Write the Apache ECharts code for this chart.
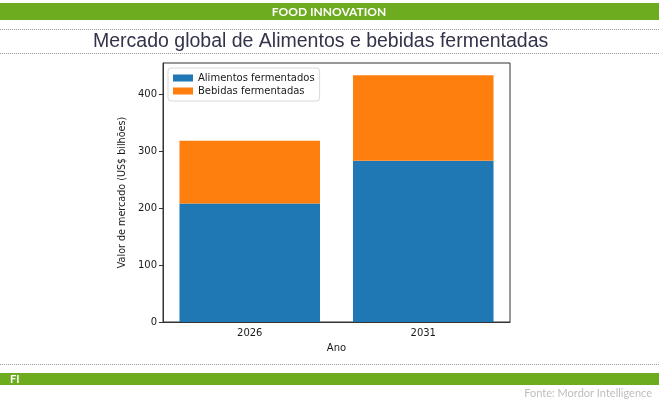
<!DOCTYPE html>
<html>
<head>
<meta charset="utf-8">
<script src="https://cdn.jsdelivr.net/npm/echarts@6/dist/echarts.min.js"></script>
<style>
html,body{margin:0;padding:0;background:#fff;}
#chart{width:659px;height:400px;}
</style>
</head>
<body>
<div id="chart"></div>
<script>
const categories = ['2026', '2031'];
const alimentos = [208, 283];
const bebidas = [110, 150];
const yTicks = [0, 100, 200, 300, 400];
const seriesNames = ['Alimentos fermentados', 'Bebidas fermentadas'];

const chart = echarts.init(document.getElementById('chart'));
const axisFont = 'DejaVu Sans';
const green = '#6dab1f';

chart.setOption({
  animation: false,
  backgroundColor: '#ffffff',
  title: {
    text: 'Mercado global de Alimentos e bebidas fermentadas',
    left: 93,
    top: 32,
    padding: 0,
    textStyle: { fontFamily: 'Liberation Sans', fontSize: 19.5, fontWeight: 'normal', color: '#33334a' }
  },
  legend: {
    orient: 'vertical',
    left: 168,
    top: 68,
    itemWidth: 20,
    itemHeight: 7,
    itemGap: 3,
    padding: [5, 5, 5, 5],
    backgroundColor: '#ffffff',
    borderColor: '#d8d8d8',
    borderWidth: 1,
    borderRadius: 3,
    icon: 'rect',
    textStyle: { fontFamily: axisFont, fontSize: 10, color: '#1a1a1a' },
    data: seriesNames
  },
  grid: {
    left: 163, right: 149, top: 63, bottom: 78,
    show: true, borderColor: '#333', borderWidth: 1, backgroundColor: 'transparent'
  },
  xAxis: {
    type: 'category',
    data: categories,
    name: 'Ano',
    nameLocation: 'middle',
    nameGap: 21,
    nameTextStyle: { fontFamily: axisFont, fontSize: 10, color: '#1a1a1a' },
    axisLine: { lineStyle: { color: '#333' } },
    axisTick: { alignWithLabel: true, length: 4, lineStyle: { color: '#333' } },
    axisLabel: { fontFamily: axisFont, fontSize: 10, color: '#1a1a1a', margin: 6 },
    splitLine: { show: false }
  },
  yAxis: {
    type: 'value',
    min: 0,
    max: 454.6,
    name: 'Valor de mercado (US$ bilhões)',
    nameLocation: 'middle',
    nameGap: 31,
    nameRotate: 90,
    nameTextStyle: { fontFamily: axisFont, fontSize: 9.6, color: '#1a1a1a' },
    axisLine: { show: true, lineStyle: { color: '#333' } },
    axisTick: { show: true, length: 4, lineStyle: { color: '#333' }, customValues: yTicks },
    axisLabel: { fontFamily: axisFont, fontSize: 10, color: '#1a1a1a', margin: 6, customValues: yTicks },
    splitLine: { show: false }
  },
  series: [
    {
      name: seriesNames[0], type: 'bar', stack: 'total',
      data: alimentos, barCategoryGap: '19%',
      itemStyle: { color: '#1f77b4' }
    },
    {
      name: seriesNames[1], type: 'bar', stack: 'total',
      data: bebidas, barCategoryGap: '19%',
      itemStyle: { color: '#ff7f0e' }
    }
  ],
  graphic: [
    { type: 'rect', shape: { x: 0, y: 3, width: 659, height: 17 }, style: { fill: green }, silent: true },
    { type: 'text', x: 329, y: 12, style: { text: 'FOOD INNOVATION', fill: '#ffffff', font: 'bold 12px Lato', textAlign: 'center', textVerticalAlign: 'middle' } },
    { type: 'line', shape: { x1: 0, y1: 29.5, x2: 659, y2: 29.5 }, style: { stroke: '#9a9a9a', lineWidth: 1, lineDash: [1, 1] } },
    { type: 'line', shape: { x1: 0, y1: 53.5, x2: 659, y2: 53.5 }, style: { stroke: '#9a9a9a', lineWidth: 1, lineDash: [1, 1] } },
    { type: 'line', shape: { x1: 0, y1: 364.5, x2: 659, y2: 364.5 }, style: { stroke: '#9a9a9a', lineWidth: 1, lineDash: [1, 1] } },
    { type: 'rect', shape: { x: 0, y: 373, width: 659, height: 12 }, style: { fill: green }, silent: true },
    { type: 'text', x: 10, y: 379.5, style: { text: 'FI', fill: '#ffffff', font: 'bold 11px Lato', textAlign: 'left', textVerticalAlign: 'middle' } },
    { type: 'text', x: 652, y: 393, style: { text: 'Fonte: Mordor Intelligence', fill: '#bdbdbd', font: '11px Lato', textAlign: 'right', textVerticalAlign: 'middle' } }
  ]
});
</script>
</body>
</html>
